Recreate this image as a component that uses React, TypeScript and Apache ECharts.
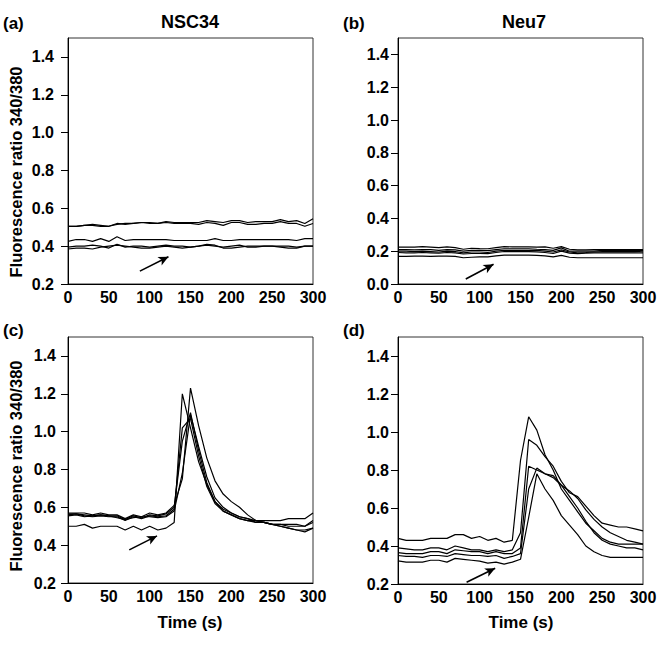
import React, { useEffect, useRef } from "react";
import * as echarts from "echarts";

const TIME = [0, 10, 20, 30, 40, 50, 60, 70, 80, 90, 100, 110, 120, 130, 140, 150, 160, 170, 180, 190, 200, 210, 220, 230, 240, 250, 260, 270, 280, 290, 300];

// (a) NSC34 basal
const A1 = [0.505, 0.505, 0.51, 0.515, 0.51, 0.505, 0.515, 0.52, 0.52, 0.525, 0.525, 0.52, 0.53, 0.525, 0.525, 0.525, 0.525, 0.535, 0.53, 0.525, 0.535, 0.535, 0.525, 0.53, 0.53, 0.53, 0.54, 0.53, 0.535, 0.52, 0.545];
const A2 = [0.505, 0.505, 0.51, 0.51, 0.505, 0.505, 0.52, 0.515, 0.52, 0.525, 0.52, 0.52, 0.525, 0.52, 0.52, 0.52, 0.515, 0.525, 0.52, 0.51, 0.525, 0.525, 0.515, 0.515, 0.52, 0.52, 0.53, 0.52, 0.52, 0.505, 0.52];
const A3 = [0.425, 0.435, 0.435, 0.425, 0.44, 0.425, 0.45, 0.43, 0.435, 0.435, 0.435, 0.435, 0.435, 0.43, 0.43, 0.43, 0.43, 0.43, 0.44, 0.43, 0.43, 0.435, 0.435, 0.435, 0.435, 0.435, 0.435, 0.435, 0.43, 0.44, 0.44];
const A4 = [0.395, 0.4, 0.4, 0.405, 0.4, 0.39, 0.41, 0.395, 0.4, 0.4, 0.395, 0.4, 0.405, 0.4, 0.4, 0.395, 0.4, 0.41, 0.405, 0.39, 0.39, 0.395, 0.4, 0.4, 0.4, 0.4, 0.4, 0.4, 0.395, 0.4, 0.4];
const A5 = [0.385, 0.39, 0.39, 0.385, 0.395, 0.4, 0.405, 0.4, 0.395, 0.39, 0.39, 0.395, 0.4, 0.395, 0.39, 0.395, 0.4, 0.405, 0.4, 0.395, 0.4, 0.405, 0.395, 0.395, 0.4, 0.4, 0.395, 0.39, 0.39, 0.4, 0.4];

// (b) Neu7 basal
const B1 = [0.225, 0.225, 0.225, 0.228, 0.225, 0.222, 0.226, 0.222, 0.212, 0.218, 0.216, 0.215, 0.222, 0.228, 0.226, 0.226, 0.226, 0.225, 0.226, 0.218, 0.228, 0.212, 0.208, 0.208, 0.21, 0.21, 0.21, 0.21, 0.21, 0.21, 0.21];
const B2 = [0.21, 0.21, 0.208, 0.21, 0.21, 0.205, 0.21, 0.208, 0.2, 0.205, 0.205, 0.203, 0.21, 0.215, 0.215, 0.215, 0.215, 0.212, 0.21, 0.205, 0.22, 0.2, 0.2, 0.2, 0.2, 0.205, 0.205, 0.205, 0.205, 0.205, 0.205];
const B3 = [0.2, 0.2, 0.198, 0.2, 0.198, 0.195, 0.2, 0.198, 0.19, 0.195, 0.195, 0.192, 0.2, 0.205, 0.205, 0.205, 0.205, 0.205, 0.2, 0.195, 0.208, 0.195, 0.19, 0.192, 0.195, 0.198, 0.198, 0.198, 0.198, 0.198, 0.2];
const B4 = [0.192, 0.19, 0.19, 0.192, 0.19, 0.188, 0.192, 0.19, 0.183, 0.186, 0.186, 0.185, 0.192, 0.198, 0.198, 0.198, 0.198, 0.196, 0.192, 0.186, 0.2, 0.188, 0.185, 0.188, 0.19, 0.19, 0.19, 0.19, 0.19, 0.19, 0.19];
const B5 = [0.168, 0.168, 0.17, 0.17, 0.168, 0.17, 0.17, 0.168, 0.16, 0.163, 0.165, 0.165, 0.172, 0.176, 0.176, 0.176, 0.176, 0.175, 0.172, 0.165, 0.175, 0.163, 0.16, 0.16, 0.16, 0.16, 0.16, 0.16, 0.16, 0.16, 0.16];

// (c) NSC34 stimulated
const C1 = [0.5, 0.5, 0.51, 0.49, 0.5, 0.5, 0.5, 0.48, 0.5, 0.48, 0.5, 0.48, 0.49, 0.52, 1.2, 1.02, 0.84, 0.72, 0.63, 0.59, 0.57, 0.55, 0.54, 0.53, 0.52, 0.51, 0.5, 0.49, 0.48, 0.48, 0.49];
const C2 = [0.57, 0.57, 0.57, 0.56, 0.57, 0.56, 0.56, 0.54, 0.56, 0.55, 0.57, 0.56, 0.57, 0.61, 0.75, 1.23, 1.03, 0.86, 0.74, 0.67, 0.63, 0.6, 0.56, 0.53, 0.52, 0.51, 0.5, 0.49, 0.48, 0.47, 0.49];
const C3 = [0.565, 0.565, 0.56, 0.555, 0.56, 0.555, 0.555, 0.535, 0.555, 0.545, 0.56, 0.555, 0.565, 0.6, 0.95, 1.1, 0.9, 0.73, 0.63, 0.58, 0.56, 0.54, 0.53, 0.53, 0.53, 0.53, 0.53, 0.54, 0.54, 0.54, 0.57];
const C4 = [0.56, 0.565, 0.555, 0.55, 0.555, 0.55, 0.55, 0.53, 0.55, 0.54, 0.555, 0.55, 0.555, 0.59, 1.02, 1.07, 0.87, 0.71, 0.62, 0.58, 0.56, 0.54, 0.53, 0.52, 0.52, 0.51, 0.51, 0.5, 0.5, 0.5, 0.53];
const C5 = [0.555, 0.56, 0.55, 0.555, 0.56, 0.555, 0.545, 0.535, 0.545, 0.55, 0.55, 0.545, 0.55, 0.58, 0.78, 1.09, 0.92, 0.76, 0.65, 0.6, 0.57, 0.55, 0.54, 0.52, 0.52, 0.51, 0.51, 0.51, 0.51, 0.5, 0.52];

// (d) Neu7 stimulated
const D1 = [0.44, 0.43, 0.43, 0.43, 0.44, 0.44, 0.44, 0.46, 0.46, 0.44, 0.45, 0.43, 0.44, 0.42, 0.43, 0.85, 1.08, 1.01, 0.88, 0.8, 0.7, 0.64, 0.58, 0.52, 0.48, 0.44, 0.42, 0.41, 0.41, 0.41, 0.41];
const D2 = [0.39, 0.385, 0.38, 0.38, 0.39, 0.39, 0.38, 0.4, 0.39, 0.38, 0.38, 0.37, 0.38, 0.37, 0.38, 0.47, 0.96, 0.93, 0.87, 0.82, 0.74, 0.68, 0.66, 0.61, 0.56, 0.52, 0.51, 0.5, 0.5, 0.49, 0.48];
const D3 = [0.365, 0.36, 0.36, 0.36, 0.37, 0.37, 0.36, 0.38, 0.375, 0.37, 0.37, 0.36, 0.37, 0.36, 0.36, 0.39, 0.82, 0.8, 0.78, 0.77, 0.72, 0.69, 0.65, 0.59, 0.54, 0.5, 0.47, 0.45, 0.43, 0.42, 0.41];
const D4 = [0.35, 0.345, 0.345, 0.34, 0.35, 0.35, 0.345, 0.36, 0.355, 0.35, 0.35, 0.345, 0.35, 0.335, 0.345, 0.36, 0.7, 0.81, 0.78, 0.76, 0.72, 0.66, 0.6, 0.53, 0.47, 0.43, 0.41, 0.4, 0.39, 0.39, 0.38];
const D5 = [0.322, 0.315, 0.315, 0.315, 0.325, 0.325, 0.315, 0.335, 0.33, 0.325, 0.32, 0.31, 0.315, 0.305, 0.315, 0.33, 0.55, 0.78, 0.7, 0.64, 0.56, 0.51, 0.46, 0.4, 0.37, 0.35, 0.34, 0.34, 0.34, 0.34, 0.34];

const X_TICKS = [0, 50, 100, 150, 200, 250, 300];
const Y_TICKS_FROM_02 = [0.2, 0.4, 0.6, 0.8, 1.0, 1.2, 1.4];
const Y_TICKS_FROM_00 = [0.0, 0.2, 0.4, 0.6, 0.8, 1.0, 1.2, 1.4];

// arrow annotations (data coordinates: [time, ratio] start -> end)
const ARROW_A = [[88, 0.268], [123, 0.344]];
const ARROW_B = [[83, 0.03], [117, 0.12]];
const ARROW_C = [[75, 0.375], [109, 0.449]];
const ARROW_D = [[84, 0.209], [119, 0.283]];

const TITLES = ["NSC34", "Neu7"];
const PANEL_LABELS = ["(a)", "(b)", "(c)", "(d)"];
const Y_NAME = "Fluorescence ratio 340/380";
const X_NAME = "Time (s)";

const FONT = '"Liberation Sans", Arial, sans-serif';

export default function App() {
  const ref = useRef<HTMLDivElement>(null);

  useEffect(() => {
    if (!ref.current) return;
    const chart = echarts.init(ref.current, undefined, { renderer: "svg" });

    const grids = [
      { left: 68, top: 38, width: 245, height: 246 },
      { left: 398, top: 38, width: 245, height: 246 },
      { left: 68, top: 337, width: 245, height: 246 },
      { left: 398, top: 337, width: 245, height: 247 },
    ];
    const yMins = [0.2, 0.0, 0.2, 0.2];
    const yTicks = [Y_TICKS_FROM_02, Y_TICKS_FROM_00, Y_TICKS_FROM_02, Y_TICKS_FROM_02];
    const labelMargins = [14, 9, 12, 9];
    const panels = [[A1, A2, A3, A4, A5], [B1, B2, B3, B4, B5], [C1, C2, C3, C4, C5], [D1, D2, D3, D4, D5]];
    const arrows = [ARROW_A, ARROW_B, ARROW_C, ARROW_D];

    const series: any[] = [];
    panels.forEach((lines, gi) => {
      lines.forEach((vals, li) => {
        const s: any = {
          type: "line",
          xAxisIndex: gi,
          yAxisIndex: gi,
          data: TIME.map((t, i) => [t, vals[i]]),
          showSymbol: false,
          symbol: "none",
          lineStyle: { color: "#000", width: 1.2 },
          silent: true,
          z: 2,
        };
        if (li === 0) {
          s.markLine = {
            silent: true,
            symbol: ["none", "arrow"],
            symbolSize: [7, 10],
            label: { show: false },
            lineStyle: { color: "#000", width: 1.6, type: "solid" },
            data: [[{ coord: arrows[gi][0] }, { coord: arrows[gi][1] }]],
          };
        }
        series.push(s);
      });
    });

    const option: any = {
      animation: false,
      backgroundColor: "#fff",
      grid: grids.map((g) => ({ ...g, show: true, borderColor: "#333", borderWidth: 1, backgroundColor: "transparent", containLabel: false })),
      xAxis: grids.map((_, gi) => ({
        type: "value",
        gridIndex: gi,
        min: 0,
        max: 300,
        interval: 50,
        axisLine: { show: true, lineStyle: { color: "#000", width: 1 } },
        axisTick: { show: false },
        splitLine: { show: false },
        axisLabel: {
          color: "#000",
          fontFamily: FONT,
          fontWeight: "bold",
          fontSize: 16,
          margin: 5,
          customValues: X_TICKS,
        },
      })),
      yAxis: grids.map((_, gi) => ({
        type: "value",
        gridIndex: gi,
        min: yMins[gi],
        max: 1.5,
        axisLine: { show: true, lineStyle: { color: "#000", width: 1 } },
        axisTick: { show: true, length: 7, inside: false, lineStyle: { color: "#000" }, customValues: yTicks[gi] },
        splitLine: { show: false },
        axisLabel: {
          color: "#000",
          fontFamily: FONT,
          fontWeight: "bold",
          fontSize: 16,
          margin: labelMargins[gi],
          customValues: yTicks[gi],
          formatter: (v: number) => v.toFixed(1),
        },
      })),
      series,
      graphic: [
        { type: "text", x: 190, y: 22, style: { text: TITLES[0], font: `bold 18px ${FONT}`, fill: "#000", align: "center", verticalAlign: "middle", textAlign: "center", textVerticalAlign: "middle" } },
        { type: "text", x: 524, y: 22, style: { text: TITLES[1], font: `bold 18px ${FONT}`, fill: "#000", align: "center", verticalAlign: "middle", textAlign: "center", textVerticalAlign: "middle" } },
        { type: "text", x: 3, y: 23, style: { text: PANEL_LABELS[0], font: `bold 17px ${FONT}`, fill: "#000", align: "left", verticalAlign: "middle", textAlign: "left", textVerticalAlign: "middle" } },
        { type: "text", x: 343, y: 23, style: { text: PANEL_LABELS[1], font: `bold 17px ${FONT}`, fill: "#000", align: "left", verticalAlign: "middle", textAlign: "left", textVerticalAlign: "middle" } },
        { type: "text", x: 3, y: 330, style: { text: PANEL_LABELS[2], font: `bold 17px ${FONT}`, fill: "#000", align: "left", verticalAlign: "middle", textAlign: "left", textVerticalAlign: "middle" } },
        { type: "text", x: 343, y: 330, style: { text: PANEL_LABELS[3], font: `bold 17px ${FONT}`, fill: "#000", align: "left", verticalAlign: "middle", textAlign: "left", textVerticalAlign: "middle" } },
        { type: "text", x: 16, y: 172, rotation: Math.PI / 2, style: { text: Y_NAME, font: `bold 16.5px ${FONT}`, fill: "#000", align: "center", verticalAlign: "middle", textAlign: "center", textVerticalAlign: "middle" } },
        { type: "text", x: 16, y: 466, rotation: Math.PI / 2, style: { text: Y_NAME, font: `bold 16.5px ${FONT}`, fill: "#000", align: "center", verticalAlign: "middle", textAlign: "center", textVerticalAlign: "middle" } },
        { type: "text", x: 190, y: 622, style: { text: X_NAME, font: `bold 17px ${FONT}`, fill: "#000", align: "center", verticalAlign: "middle", textAlign: "center", textVerticalAlign: "middle" } },
        { type: "text", x: 521, y: 622, style: { text: X_NAME, font: `bold 17px ${FONT}`, fill: "#000", align: "center", verticalAlign: "middle", textAlign: "center", textVerticalAlign: "middle" } },
      ],
    };

    chart.setOption(option);
    return () => chart.dispose();
  }, []);

  return <div ref={ref} style={{ position: "absolute", left: 0, top: 0, width: 672, height: 648, background: "#fff" }} />;
}
